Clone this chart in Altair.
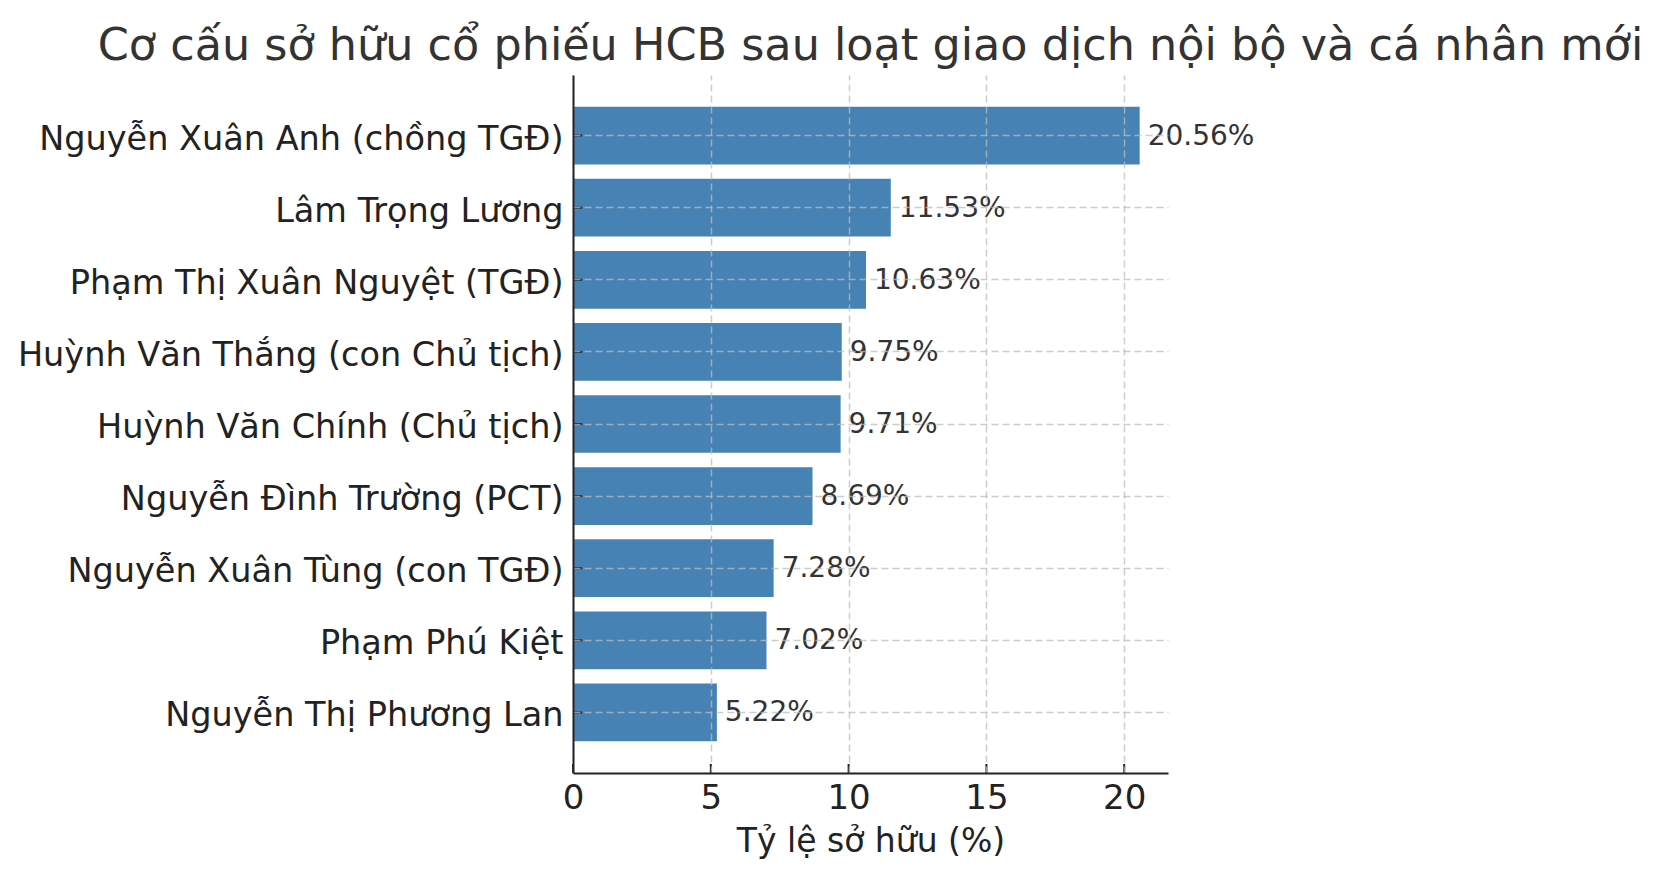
import altair as alt
import pandas as pd

names = [
    "Nguyễn Xuân Anh (chồng TGĐ)",
    "Lâm Trọng Lương",
    "Phạm Thị Xuân Nguyệt (TGĐ)",
    "Huỳnh Văn Thắng (con Chủ tịch)",
    "Huỳnh Văn Chính (Chủ tịch)",
    "Nguyễn Đình Trường (PCT)",
    "Nguyễn Xuân Tùng (con TGĐ)",
    "Phạm Phú Kiệt",
    "Nguyễn Thị Phương Lan",
]
values = [20.56, 11.53, 10.63, 9.75, 9.71, 8.69, 7.28, 7.02, 5.22]
x_ticks = [0, 5, 10, 15, 20]

title_text = "Cơ cấu sở hữu cổ phiếu HCB sau loạt giao dịch nội bộ và cá nhân mới"
x_title = "Tỷ lệ sở hữu (%)"

df = pd.DataFrame({"name": names, "value": values})
df["label"] = [f"{v:.2f}%" for v in values]
ticks_df = pd.DataFrame({"t": x_ticks})

FONT = "DejaVu Sans"
W, H = 595, 698
x_max = max(values) * 1.05

x_scale = alt.Scale(domain=[0, x_max], nice=False, zero=True)
y_scale = alt.Scale(domain=names, paddingInner=0.2, paddingOuter=0.44)

grid_color = "#bcbcbc"

bars = alt.Chart(df).mark_bar(color="#4682b4").encode(
    x=alt.X("value:Q", scale=x_scale,
            axis=alt.Axis(values=x_ticks, title=x_title, grid=True, tickExtra=False,
                          gridColor=grid_color, gridOpacity=0.75, gridDash=[7, 4], gridWidth=1.5,
                          domainColor="#222222", domainWidth=2, tickSize=0,
                          labelFont=FONT, labelFontSize=34, labelColor="#222222", labelPadding=8,
                          labelFlush=False,
                          titleFont=FONT, titleFontSize=33, titleFontWeight="normal",
                          titleColor="#222222", titlePadding=10, zindex=1)),
    y=alt.Y("name:N", scale=y_scale, sort=names,
            axis=alt.Axis(title=None, grid=True, bandPosition=0.5, tickExtra=False,
                          gridColor=grid_color, gridOpacity=0.75, gridDash=[7, 4], gridWidth=1.5,
                          domainColor="#222222", domainWidth=2, tickSize=0,
                          labelFont=FONT, labelFontSize=33.5, labelColor="#222222", labelPadding=10,
                          labelOffset=4, labelLimit=1000, zindex=1)),
)

texts = alt.Chart(df).mark_text(align="left", baseline="middle", dx=8, dy=1,
                                font=FONT, fontSize=28, color="#333333").encode(
    x=alt.X("value:Q", scale=x_scale),
    y=alt.Y("name:N", scale=y_scale, sort=names),
    text="label:N",
)

yticks = alt.Chart(df).mark_rule(color="#222222", strokeWidth=2).encode(
    y=alt.Y("name:N", scale=y_scale, sort=names),
    x=alt.value(0),
    x2=alt.value(9),
)

xticks = alt.Chart(ticks_df).mark_rule(color="#222222", strokeWidth=2).encode(
    x=alt.X("t:Q", scale=x_scale),
    y=alt.value(H - 9),
    y2=alt.value(H),
)

chart = alt.layer(bars, texts, yticks, xticks).properties(
    width=W, height=H,
    background="white",
    title=alt.TitleParams(title_text, font=FONT, fontSize=44.5, fontWeight="normal",
                          color="#333333", anchor="middle", offset=6),
    autosize=alt.AutoSizeParams(type="none"),
    padding={"left": 565, "top": 67, "right": 480, "bottom": 100},
).configure_view(strokeWidth=0)

chart.save("out.html", embed_options={"renderer": "svg", "actions": False})
